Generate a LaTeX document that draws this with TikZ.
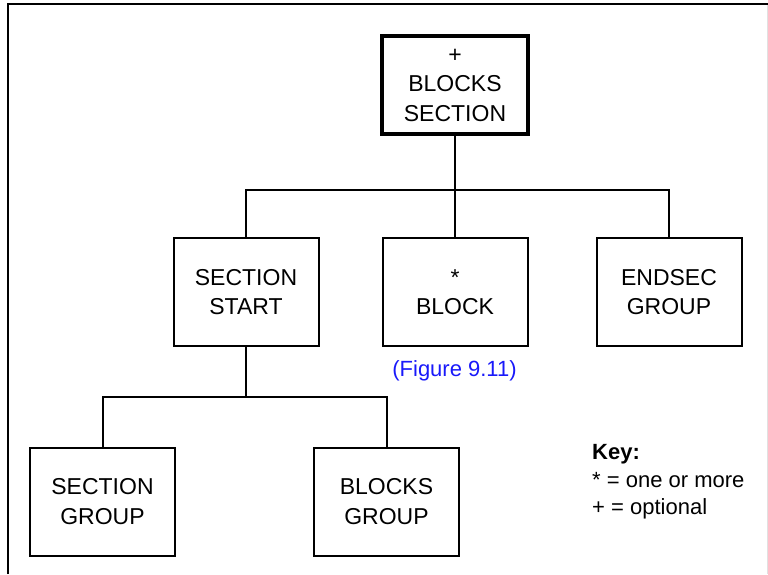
\documentclass[tikz,border=0pt]{standalone}
\usepackage{fontspec}
\setmainfont{Liberation Sans}
\definecolor{figblue}{RGB}{25,25,250}
\definecolor{edgegray}{RGB}{225,225,225}
\begin{document}
\begin{tikzpicture}[x=1pt,y=-1pt,
  box/.style={draw,line width=2pt,minimum width=145pt,minimum height=108pt,
    inner sep=0pt,align=center,font=\fontsize{23}{29.5}\selectfont},
  rootbox/.style={box,line width=4.5pt,minimum width=146pt,minimum height=98pt},
  link/.style={line width=2pt},
  keytext/.style={anchor=base west,inner sep=0pt,font=\fontsize{22}{27}\selectfont}]
  \useasboundingbox (0,0) rectangle (768,574);
  % frame
  \draw[line width=2pt] (8,574) -- (8,4) -- (768,4);
  \draw[edgegray,line width=1pt] (767,5) -- (767,574);

  % nodes
  \node[rootbox] (root) at (455,85) {+\\BLOCKS\\SECTION};
  \node[box] (start) at (246,292) {SECTION\\START};
  \node[box] (block) at (455,292) {*\\BLOCK};
  \node[box] (endsec) at (669,292) {ENDSEC\\GROUP};
  \node[box] (sgroup) at (102.5,501.5) {SECTION\\GROUP};
  \node[box] (bgroup) at (386.5,501.5) {BLOCKS\\GROUP};

  \node[anchor=base,inner sep=0pt,text=figblue,font=\fontsize{22}{27}\selectfont]
    (figref) at (454.5,376) {(Figure 9.11)};

  % key
  \node[keytext] (keyhead) at (592,459) {\textbf{Key:}};
  \node[keytext] (keystar) at (592,487) {* = one or more};
  \node[keytext] (keyplus) at (592,514) {+ = optional};

  % connectors
  \coordinate (busA) at (455,190);
  \coordinate (busB) at (246,397);
  \draw[link] (root.south) -- (block.north);
  \draw[link] (start.north) |- (busA) -| (endsec.north);
  \draw[link] (start.south) -- (busB);
  \draw[link] (sgroup.north) |- (busB) -| (bgroup.north);
\end{tikzpicture}
\end{document}
